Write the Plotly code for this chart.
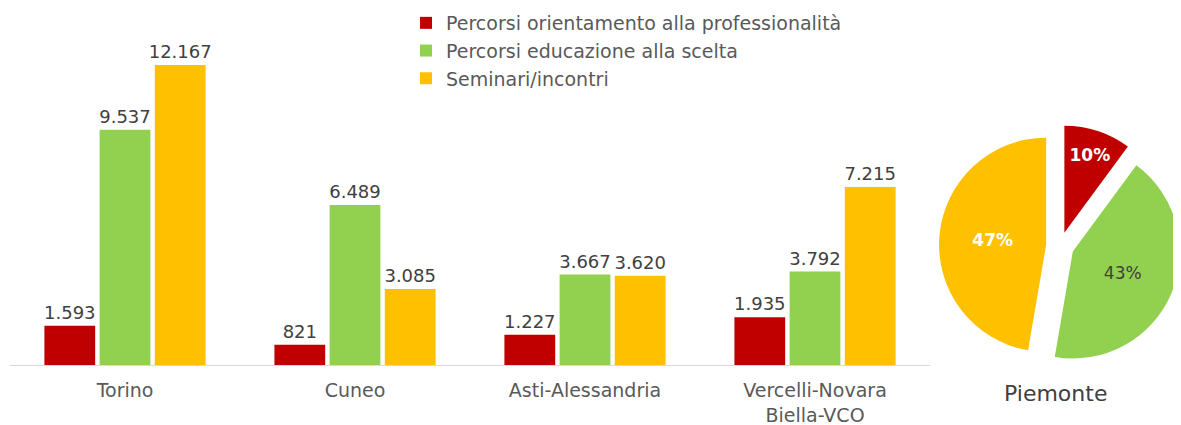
import plotly.graph_objects as go

categories = ['Torino', 'Cuneo', 'Asti-Alessandria', 'Vercelli-Novara<br>Biella-VCO']
orientamento = [1593, 821, 1227, 1935]
educazione = [9537, 6489, 3667, 3792]
seminari = [12167, 3085, 3620, 7215]

series_names = ['Percorsi orientamento alla professionalità',
                'Percorsi educazione alla scelta',
                'Seminari/incontri']
colors = ['#C00000', '#92D050', '#FFC000']

FONT = 'DejaVu Sans'
# the html body has an 8px margin, so the figure is drawn 8px in from the top-left
OFF = 8
W, H = 1181 - OFF, 425 - OFF
ML = 2
PW = W - ML


def px_x(x):
    return (x - OFF - ML) / PW


def px_y(y):
    return 1 - (y - OFF) / H


fig = go.Figure()

for name, vals, col in zip(series_names, [orientamento, educazione, seminari], colors):
    fig.add_trace(go.Bar(
        x=categories, y=vals, name=name,
        marker=dict(color=col, line=dict(width=0)),
        texttemplate='%{y:,}', textposition='outside', constraintext='none',
        textfont=dict(color='#404040', size=18, family=FONT),
        cliponaxis=False,
    ))

# Piemonte = somma delle province
pie_vals = [sum(orientamento), sum(educazione), sum(seminari)]
fig.add_trace(go.Pie(
    values=pie_vals, labels=series_names,
    marker=dict(colors=colors, line=dict(width=0)),
    sort=False, direction='clockwise', rotation=0,
    pull=[0.13, 0.13, 0.13],
    texttemplate=['<b>%{percent:.0%}</b>', '%{percent:.0%}', '<b>%{percent:.0%}</b>'],
    textposition='inside', insidetextorientation='horizontal',
    textfont=dict(color=['#FFFFFF', '#404040', '#FFFFFF'], size=17, family=FONT),
    domain=dict(x=[px_x(939), 1.0], y=[px_y(370), px_y(122)]),
    showlegend=False, hoverinfo='label+percent',
))

fig.add_annotation(text='Piemonte', x=px_x(1055), y=px_y(393),
                   xref='paper', yref='paper', showarrow=False,
                   xanchor='center', yanchor='middle',
                   font=dict(size=22, color='#404040', family=FONT))

fig.update_layout(
    width=W, height=H,
    margin=dict(l=ML, r=0, t=0, b=0, autoexpand=False),
    paper_bgcolor='white', plot_bgcolor='white',
    separators=',.',
    barmode='group', bargap=0.28, bargroupgap=0.08,
    font=dict(family=FONT, color='#595959', size=18),
    legend=dict(x=px_x(406), y=px_y(4), xanchor='left', yanchor='top',
                font=dict(size=19, color='#595959', family=FONT),
                bgcolor='rgba(0,0,0,0)', tracegroupgap=0),
    xaxis=dict(domain=[0, 920 / PW], showline=True, linecolor='#D9D9D9', linewidth=1,
               ticks='', tickfont=dict(size=19, color='#595959'), showgrid=False,
               ticklabelstandoff=8, automargin=False),
    yaxis=dict(domain=[px_y(365), 1], range=[0, (365 - OFF) / (300 / 12167)],
               visible=False, showgrid=False, automargin=False),
)

fig.write_html('out.html')
